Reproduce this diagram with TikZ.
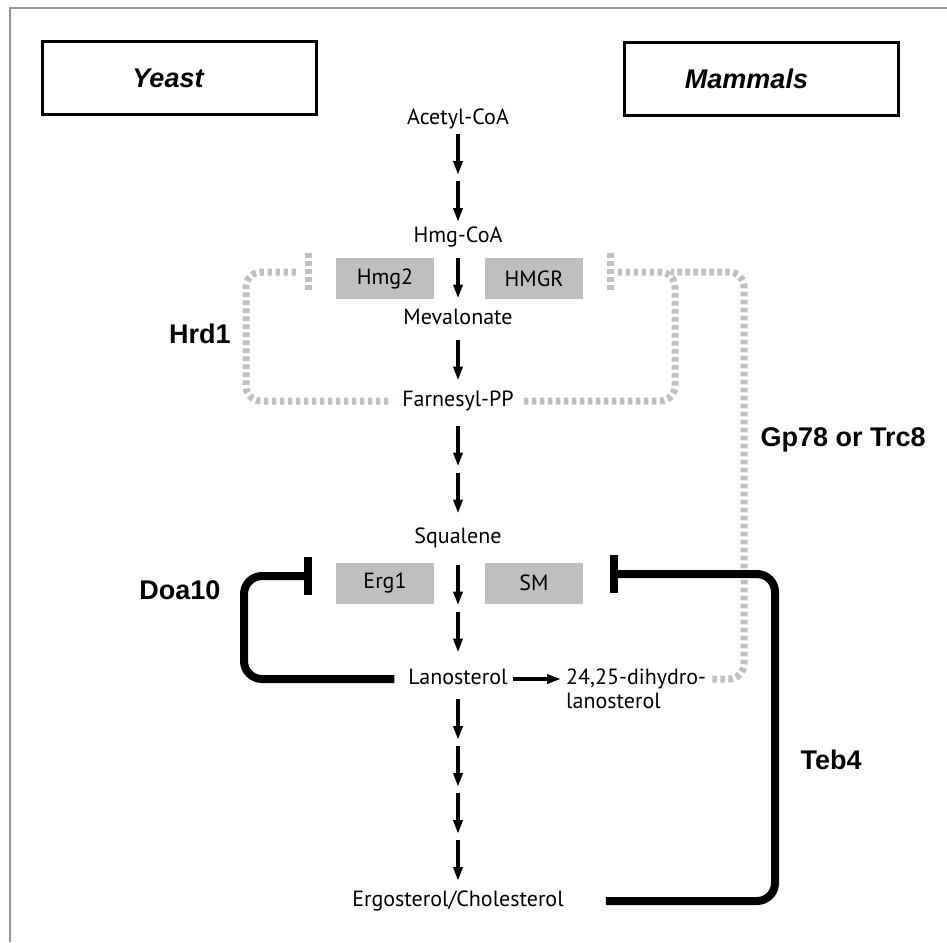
\documentclass[tikz,border=0pt]{standalone}
\usepackage{fontspec}
\setmainfont{PT Sans}
\newfontfamily\arialfont{Liberation Sans}
\usetikzlibrary{arrows.meta, calc, positioning}

\definecolor{enzgray}{RGB}{191,191,191}
\definecolor{framegray}{RGB}{150,150,150}

\tikzset{
  metab/.style={font=\fontsize{22}{24}\selectfont, text height=16pt, text depth=5pt, inner sep=2pt},
  enzyme/.style={fill=enzgray, minimum width=98pt, minimum height=41pt, inner sep=0pt, font=\fontsize{22}{24}\selectfont},
  organism/.style={draw, line width=3pt, minimum width=274pt, minimum height=73pt, font=\arialfont\bfseries\itshape\fontsize{27}{30}\selectfont},
  ligase/.style={font=\arialfont\bfseries\fontsize{27}{30}\selectfont},
  flow/.style={-{Triangle[length=14pt, width=9pt]}, line width=3.5pt},
  inhib/.style={line width=8pt, rounded corners=18pt, -{Bar[width=38pt]}},
  dotline/.style={draw=enzgray, line width=7pt, dash pattern=on 4.5pt off 3.5pt, rounded corners=15pt}
}

% n arrows of equal length centred between two metabolites
\newcommand{\steps}[3]{%
  \foreach \k in {1,...,#3}{%
    \draw[flow] ($(#1.south)!.5!(#2.north) + (0,{(\k-1-#3/2)*47+3})$) -- ++(0,41);
  }}

\begin{document}
\begin{tikzpicture}[x=1pt, y=-1pt]
  \useasboundingbox (0,0) rectangle (947,942);
  \draw[framegray, line width=1.5pt] (10,942) -- (10,8) -- (947,8);

  \node[organism] (yeast) at (179,78) {Yeast\hspace*{22pt}};
  \node[organism] (mammals) at (761.5,79) {Mammals\hspace*{30pt}};

  \node[metab] (acetyl) at (458,119) {Acetyl-CoA};
  \node[metab] (hmgcoa) at (458,237) {Hmg-CoA};
  \node[metab] (meval) at (458,319) {Mevalonate};
  \node[metab] (farn) at (458,401) {Farnesyl-PP};
  \node[metab] (squal) at (458,538) {Squalene};
  \node[metab] (lano) at (458,679) {Lanosterol};
  \node[metab] (ergo) at (458,901) {Ergosterol/Cholesterol};
  \node[metab, anchor=west] (dihydro) at (564,679) {24,25-dihydro-};
  \node[metab, anchor=north west, yshift=1pt] (dihydrob) at (dihydro.south west) {lanosterol};

  \node[enzyme] (hmgtwo) at (385,278.5) {Hmg2};
  \node[enzyme] (hmgr) at (534,278.5) {HMGR};
  \node[enzyme] (ergone) at (385,583) {Erg1};
  \node[enzyme] (sm) at (534,583) {SM};

  \steps{acetyl}{hmgcoa}{2}
  \steps{hmgcoa}{meval}{1}
  \steps{meval}{farn}{1}
  \steps{farn}{squal}{2}
  \steps{squal}{lano}{2}
  \steps{lano}{ergo}{4}
  \draw[flow, shorten <=3pt, shorten >=3pt] (lano) -- (dihydro);

  \coordinate (hrdL) at (308,272);
  \coordinate (hrdR) at (610,272);
  \coordinate (junction) at (675,272);
  \coordinate (doaend) at (312,576);
  \coordinate (tebend) at (610,574);

  \draw[dotline] ($(hrdL)+(0,-19)$) -- ($(hrdL)+(0,19)$);
  \draw[dotline] ($(hrdR)+(0,-19)$) -- ($(hrdR)+(0,19)$);
  \draw[dotline, shorten >=8pt] ([xshift=-12pt]hrdL) -- ($(hrdL)+(-62,0)$) |- (farn.west);
  \draw[dotline, shorten <=8pt] (farn.east) -| (junction) -- ([xshift=5pt]hrdR);
  \draw[dotline, shorten <=4pt] (dihydro.east) -| ($(junction)+(69,0)$) -- ([xshift=-4pt]junction);

  \draw[inhib, shorten <=12pt] (lano.west) -| ($(doaend)+(-68,0)$) -- (doaend);
  \draw[inhib, shorten <=40pt] (ergo.east) -| ($(tebend)+(165,0)$) -- (tebend);

  \node[ligase] (hrd) at (200,334) {Hrd1};
  \node[ligase] (doa) at (180,590) {Doa10};
  \node[ligase, anchor=west] (gp) at (757,440) {Gp78 or Trc8};
  \node[ligase, anchor=west] (teb) at (797,760) {Teb4};
\end{tikzpicture}
\end{document}
